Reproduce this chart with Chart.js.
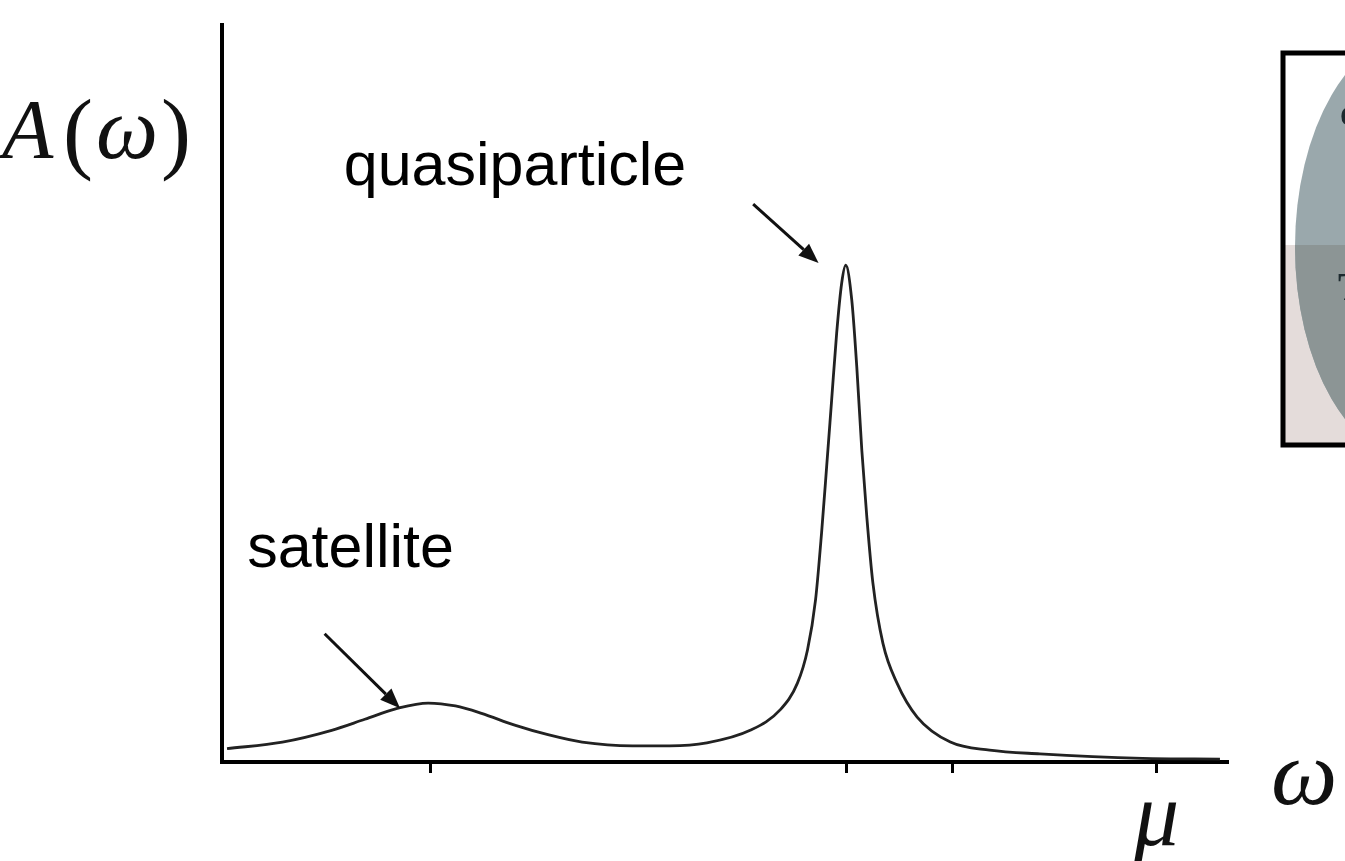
<!DOCTYPE html>
<html>
<head>
<meta charset="utf-8">
<script src="https://cdn.jsdelivr.net/npm/chart.js@4"></script>
<style>
  html, body { margin: 0; padding: 0; background: #fff; }
  canvas { display: block; }
</style>
</head>
<body>
<canvas id="chart" width="1345" height="861"></canvas>
<script>
// spectral function A(w) (arbitrary units)
const omega = [0.05, 0.60, 1.09, 1.42, 1.75, 2.05, 2.32, 2.58, 2.91, 3.24, 3.58, 4.08, 4.45, 4.82, 5.25, 5.55, 5.72, 5.82, 5.90, 5.96, 6.01, 6.06, 6.11, 6.16, 6.20, 6.26, 6.31, 6.36, 6.41, 6.47, 6.57, 6.71, 6.91, 7.24, 7.63, 8.13, 9.15, 9.92];
const spectral = [0.018, 0.027, 0.043, 0.058, 0.073, 0.080, 0.076, 0.066, 0.050, 0.037, 0.027, 0.022, 0.022, 0.026, 0.043, 0.071, 0.107, 0.152, 0.220, 0.311, 0.400, 0.491, 0.582, 0.650, 0.674, 0.627, 0.536, 0.423, 0.332, 0.243, 0.161, 0.107, 0.061, 0.027, 0.016, 0.011, 0.005, 0.004];

// x-axis tick marks and their labels
const tickPositions = [2.07, 6.21, 7.26, 9.29];
const tickLabels = ["", "", "", "μ"];

// annotations (text + arrow), in data units
const noteTexts = ["quasiparticle", "satellite"];
const noteTextX = [1.21, 0.25];
const noteTextY = [0.783, 0.265];
const arrowFromX = [5.28, 1.02];
const arrowFromY = [0.757, 0.174];
const arrowToX = [5.93, 1.77];
const arrowToY = [0.677, 0.073];

const annotate = {
  id: "annotate",
  afterDraw(chart) {
    const ctx = chart.ctx;
    const x = chart.scales.x, y = chart.scales.y;
    ctx.save();

    // notes
    ctx.fillStyle = "#000";
    ctx.font = "61px 'Liberation Sans', Arial, sans-serif";
    ctx.textBaseline = "alphabetic";
    ctx.textAlign = "left";
    noteTexts.forEach((t, i) => {
      ctx.fillText(t, x.getPixelForValue(noteTextX[i]), y.getPixelForValue(noteTextY[i]));
    });

    // arrows
    ctx.strokeStyle = "#111";
    ctx.fillStyle = "#111";
    ctx.lineWidth = 3;
    arrowFromX.forEach((_, i) => {
      const x0 = x.getPixelForValue(arrowFromX[i]), y0 = y.getPixelForValue(arrowFromY[i]);
      const x1 = x.getPixelForValue(arrowToX[i]), y1 = y.getPixelForValue(arrowToY[i]);
      const a = Math.atan2(y1 - y0, x1 - x0);
      const hl = 20, hw = 8;
      const bx = x1 - hl * Math.cos(a), by = y1 - hl * Math.sin(a);
      ctx.beginPath();
      ctx.moveTo(x0, y0);
      ctx.lineTo(bx, by);
      ctx.stroke();
      ctx.beginPath();
      ctx.moveTo(x1, y1);
      ctx.lineTo(bx + hw * Math.sin(a), by - hw * Math.cos(a));
      ctx.lineTo(bx - hw * Math.sin(a), by + hw * Math.cos(a));
      ctx.closePath();
      ctx.fill();
    });

    // axis labels A(w) and w
    ctx.fillStyle = "#111";
    ctx.font = "italic 84px 'Liberation Serif', serif";
    ctx.fillText("A", 2, 158);
    ctx.font = "90px 'Liberation Serif', serif";
    ctx.fillText("(", 63, 162);
    ctx.fillText(")", 161, 162);
    ctx.font = "italic 88px 'Liberation Serif', serif";
    ctx.fillText("ω", 96, 158);
    ctx.font = "italic 94px 'Liberation Serif', serif";
    ctx.fillText("ω", 1271, 804);

    // cut-off inset on the right edge
    const bl = 1283, bt = 53, bb = 445, mid = 245;
    ctx.fillStyle = "#e4dcda";
    ctx.fillRect(bl, mid, 1345 - bl, bb - mid);
    ctx.save();
    ctx.beginPath();
    ctx.rect(bl, bt, 1345 - bl, bb - bt);
    ctx.clip();
    ctx.fillStyle = "#9aa8ac";
    ctx.beginPath();
    ctx.ellipse(1420, 247, 125, 215, 0, 0, Math.PI * 2);
    ctx.fill();
    ctx.beginPath();
    ctx.rect(bl, mid, 1345 - bl, bb - mid);
    ctx.clip();
    ctx.fillStyle = "#8c9595";
    ctx.beginPath();
    ctx.ellipse(1420, 247, 125, 215, 0, 0, Math.PI * 2);
    ctx.fill();
    ctx.restore();
    ctx.fillStyle = "#1d2a2f";
    ctx.font = "bold 40px 'Liberation Serif', serif";
    ctx.fillText("c", 1340, 126);
    ctx.fillText("T", 1338, 300);
    ctx.strokeStyle = "#000";
    ctx.lineWidth = 5;
    ctx.beginPath();
    ctx.moveTo(1350, bt);
    ctx.lineTo(bl, bt);
    ctx.lineTo(bl, bb);
    ctx.lineTo(1350, bb);
    ctx.stroke();

    ctx.restore();
  }
};

new Chart(document.getElementById("chart"), {
  type: "line",
  data: {
    datasets: [{
      data: omega.map((w, i) => ({ x: w, y: spectral[i] })),
      borderColor: "#222",
      borderWidth: 2.8,
      pointRadius: 0,
      cubicInterpolationMode: "monotone",
      fill: false
    }]
  },
  options: {
    responsive: false,
    animation: false,
    devicePixelRatio: 1,
    layout: { padding: { left: 0, top: 25, right: 117, bottom: 0 } },
    plugins: { legend: { display: false }, tooltip: { enabled: false } },
    scales: {
      x: {
        type: "linear",
        min: 0,
        max: 10,
        afterFit: (s) => { s.height = 99; },
        afterBuildTicks: (s) => { s.ticks = tickPositions.map(v => ({ value: v })); },
        border: { display: true, color: "#000", width: 4 },
        grid: { drawOnChartArea: false, drawTicks: true, tickLength: 11, tickColor: "#000", tickWidth: 3, color: "#000" },
        ticks: {
          autoSkip: false,
          maxRotation: 0,
          padding: -6,
          color: "#111",
          font: { family: "'Liberation Serif', serif", style: "italic", size: 90 },
          callback: (v, i) => tickLabels[i]
        }
      },
      y: {
        min: 0,
        max: 1,
        afterFit: (s) => { s.width = 222; },
        border: { display: true, color: "#000", width: 4 },
        grid: { display: false },
        ticks: { display: false }
      }
    }
  },
  plugins: [annotate]
});
</script>
</body>
</html>
